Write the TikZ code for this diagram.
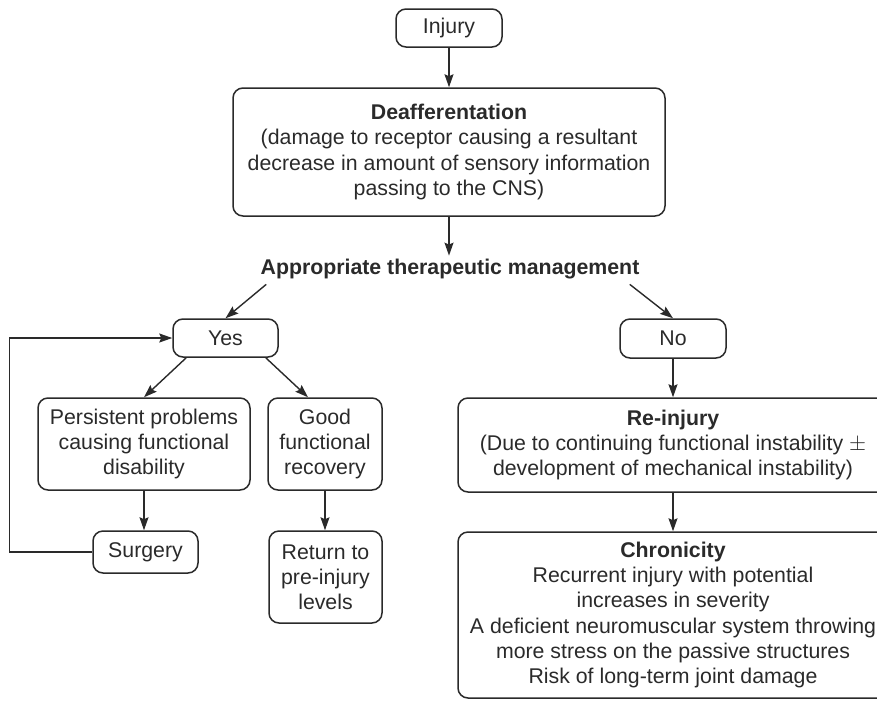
\documentclass[tikz,border=0pt]{standalone}
\usepackage{fontspec}
\setmainfont{Liberation Sans}
\usetikzlibrary{arrows.meta,calc}
\definecolor{ink}{HTML}{2A2A2A}
\begin{document}
\begin{tikzpicture}[x=0.5pt,y=-0.5pt,
  every node/.style={font=\fontsize{10.65}{12.6}\selectfont, text=ink},
  box/.style={draw=ink, line width=0.75pt, rounded corners=5pt, align=center, inner sep=0pt},
  link/.style={draw=ink, line width=0.7pt, -{Stealth[length=6.5pt,width=4.5pt,inset=1pt]}}]
\useasboundingbox (0,0) rectangle (877,702);
\clip (0,0) rectangle (877,702);

% top of the chart
\node[box, minimum width=53pt, minimum height=19pt] (inj) at (449,28) {Injury};
\node[box, minimum width=216pt, minimum height=64pt] (deaf) at (449,152)
  {\textbf{Deafferentation}\\(damage to receptor causing a resultant\\decrease in amount of sensory information\\passing to the CNS)};
\node[inner sep=0pt, font=\fontsize{10.65}{12.6}\selectfont\bfseries] (mgmt) at (450,269)
  {Appropriate therapeutic management};

% decision
\node[box, minimum width=52.5pt, minimum height=19pt] (yes) at (225.5,338) {Yes};
\node[box, minimum width=53pt, minimum height=19.5pt] (no) at (673,338.5) {No};

% left branch
\node[box, minimum width=106pt, minimum height=46pt] (pers) at (144,444)
  {Persistent problems\\causing functional\\disability};
\node[box, minimum width=57pt, minimum height=46pt] (good) at (325,444)
  {Good\\functional\\recovery};
\node[box, minimum width=52.5pt, minimum height=21pt] (surg) at (145.5,552) {Surgery};
\node[box, minimum width=56.5pt, minimum height=46pt] (ret) at (325.5,577)
  {Return to\\pre-injury\\levels};

% right branch
\node[box, minimum width=215pt, minimum height=47pt] (rein) at (673,445)
  {\textbf{Re-injury}\\(Due to continuing functional instability $\pm$\\development of mechanical instability)};
\node[box, minimum width=215pt, minimum height=83pt] (chron) at (673,615)
  {\textbf{Chronicity}\\Recurrent injury with potential\\increases in severity\\A deficient neuromuscular system throwing\\more stress on the passive structures\\Risk of long-term joint damage};

% connectors
\draw[link] (inj) -- (deaf);
\draw[link] (deaf.south) -- ($(mgmt.north)+(-1,-3)$);
\draw[link] ($(mgmt.south west)+(6,5)$) -- (yes.north);
\draw[link] ($(mgmt.south east)+(-10,5)$) -- (no.north);
\draw[link] ($(yes.south west)+(14,0)$) -- (pers.north);
\draw[link] ($(yes.south east)+(-13,0)$) -- ($(good.north)+(-17,0)$);
\draw[link] (pers.south) -- (pers.south |- surg.north);
\draw[link] (good.south) -- (good.south |- ret.north);
\draw[link] (no) -- (rein);
\draw[link] (rein) -- (chron);
\draw[link] (surg.west) -- ++(-83,0) |- (yes.west);
\end{tikzpicture}
\end{document}
